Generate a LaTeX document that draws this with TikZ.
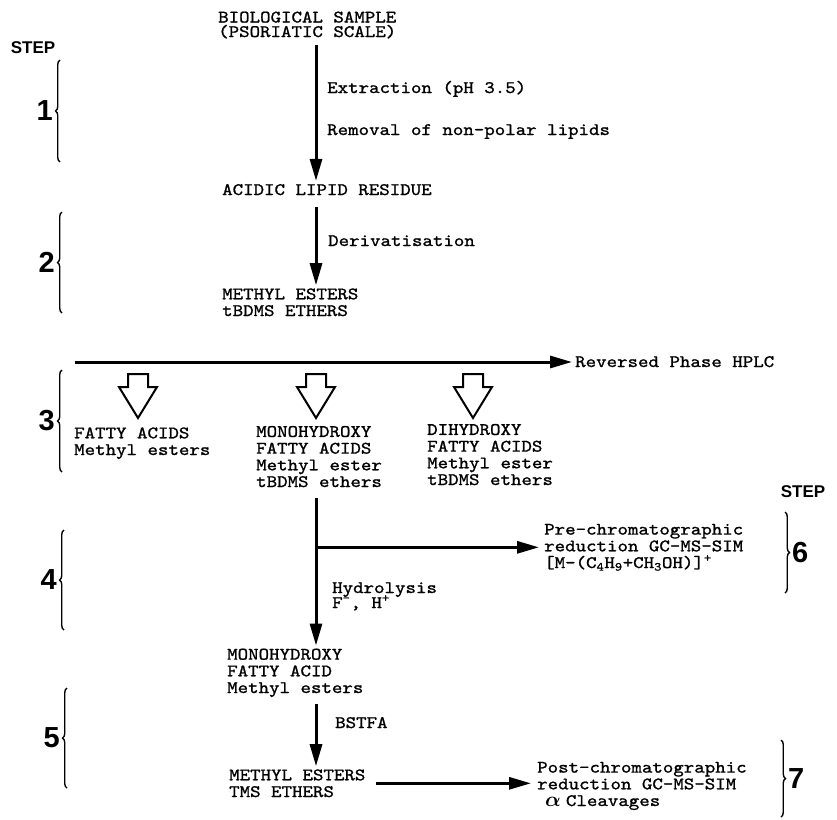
\documentclass[tikz,border=0pt]{standalone}
\usepackage{fontspec}
\usetikzlibrary{arrows.meta,decorations.pathreplacing}
\newfontfamily\typefont{lmmono10-regular.otf}[FakeStretch=1.14, FakeBold=1.2]
\newfontfamily\stepfont{Liberation Sans}

\begin{document}
\begin{tikzpicture}[
    x=1pt, y=-1pt,
    txt/.style={font={\typefont\fontsize{17.5}{16.7}\selectfont\lineskiplimit=-20pt},
                align=left, anchor=base west, inner xsep=0pt, inner ysep=3pt},
    stepnum/.style={font={\stepfont\bfseries\fontsize{29}{29}\selectfont}, inner sep=0pt},
    steplabel/.style={font={\stepfont\bfseries\fontsize{17}{17}\selectfont}, inner sep=0pt},
    stepbrace/.style={decorate, decoration={brace, amplitude=4.5pt}, line width=1.4pt},
    flow/.style={line width=3pt, -{Triangle[length=22pt, width=12pt]}, shorten <=6pt},
    hollow/.style={draw=black, line width=2pt, line join=miter}
]
\useasboundingbox (0,0) rectangle (837,819);

% ── Step labels and braces ───────────────────────────────────────────────────
\node[steplabel] (stepL) at (33,48) {STEP};
\node[steplabel] (stepR) at (803,492) {STEP};
\foreach \s/\x/\ya/\yb in {1/60/60/162, 2/62/212/313, 3/62/370/472, 4/64/530/630, 5/67/688/788} {
    \draw[stepbrace] (\x,\yb) -- (\x,\ya);
    \node[stepnum, anchor=east] (s\s) at (\x-7,{(\ya+\yb)/2}) {\s};
}
\foreach \s/\x/\ya/\yb in {6/785/512/593, 7/781/740/817} {
    \draw[stepbrace] (\x,\ya) -- (\x,\yb);
    \node[stepnum, anchor=west] (s\s) at (\x+7,{(\ya+\yb)/2}) {\s};
}

% ── Sample work-up (steps 1 and 2) ───────────────────────────────────────────
% (base west of a two-line node sits on its last line)
\coordinate (trunk) at (316,0);
\node[txt] (bio) at (218,37) {BIOLOGICAL SAMPLE\\[-2.2pt](PSORIATIC SCALE)};
\node[txt] (extr) at (327,93) {Extraction (pH 3.5)};
\node[txt] (remv) at (327,135) {Removal of non-polar lipids};
\node[txt] (acid) at (222,195) {ACIDIC LIPID RESIDUE};
\node[txt] (deriv) at (328,246) {Derivatisation};
\node[txt] (mest) at (222,316) {METHYL ESTERS\\tBDMS ETHERS};

\draw[flow, shorten <=3pt] (bio.south -| trunk) -- (acid.north -| trunk);
\draw[flow, shorten <=9pt] (acid.south -| trunk) -- (mest.north -| trunk);

% ── Reversed phase HPLC (step 3) ─────────────────────────────────────────────
\node[txt] (hplc) at (575,367) {Reversed Phase HPLC};
\coordinate (hs) at (75,362);
\draw[flow, shorten <=0pt, shorten >=3pt] (hs) -- (hs -| hplc.west);

\foreach \x in {138,316,473} {
    \draw[hollow] (\x-10,374) -- (\x+10,374) -- (\x+10,387) -- (\x+19,387)
        -- (\x,418) -- (\x-19,387) -- (\x-10,387) -- cycle;
}

\node[txt] (fa) at (74,455) {FATTY ACIDS\\Methyl esters};
\node[txt] (mono) at (256,487) {MONOHYDROXY\\FATTY ACIDS\\Methyl ester\\tBDMS ethers};
\node[txt] (dih) at (427,485) {DIHYDROXY\\FATTY ACIDS\\Methyl ester\\tBDMS ethers};

% ── Hydrolysis and pre-chromatographic reduction (steps 4 and 6) ────────────
\node[txt] (pre) at (544,568) {Pre-chromatographic\\reduction GC-MS-SIM\\
    {[}M-(C\textsubscript{4}H\textsubscript{9}+CH\textsubscript{3}OH){]}\textsuperscript{+}};
\node[txt] (hydr) at (332,608) {Hydrolysis\\[-1.7pt]F\textsuperscript{-}, H\textsuperscript{+}};
\node[txt] (mono2) at (227,693) {MONOHYDROXY\\FATTY ACID\\Methyl esters};

\draw[flow, shorten <=8pt] (mono.south -| trunk) -- (mono2.north -| trunk);
\draw[flow, shorten <=0pt, shorten >=5pt] (trunk |- pre.west) -- (pre.west);

% ── Silylation and post-chromatographic reduction (steps 5 and 7) ───────────
\node[txt] (bstfa) at (335,728) {BSTFA};
\node[txt] (tms) at (229,797) {METHYL ESTERS\\TMS ETHERS};
\node[txt] (post) at (537,806) {Post-chromatographic\\reduction GC-MS-SIM\\
    \hspace*{8pt}{\fontsize{22}{16.7}\selectfont\boldmath$\alpha$}\hspace{5pt}Cleavages};

\draw[flow, shorten <=4pt] (mono2.south -| trunk) -- (tms.north -| trunk);
\draw[flow, shorten <=10pt, shorten >=6pt] (tms.east) -- (tms.east -| post.west);

\end{tikzpicture}
\end{document}
